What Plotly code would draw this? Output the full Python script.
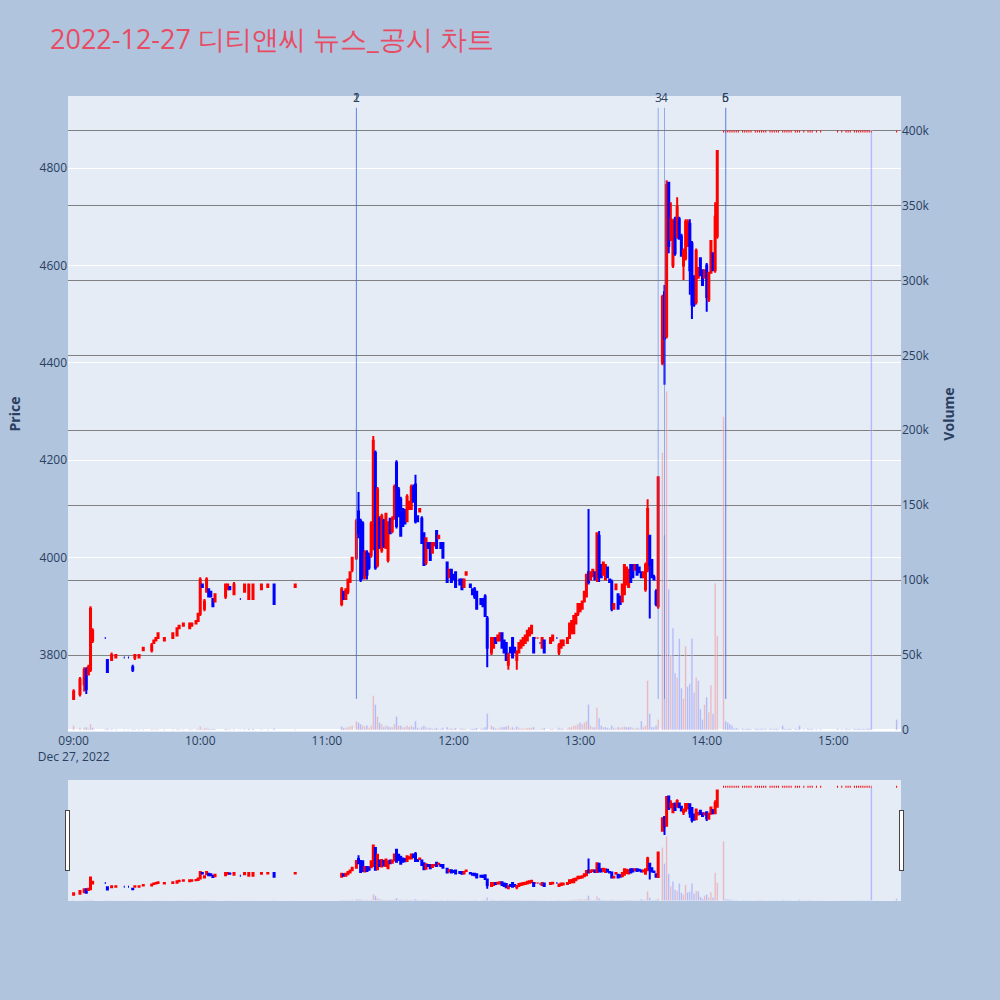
import plotly.graph_objects as go
from plotly.subplots import make_subplots

day = "2022-12-27 "

# 1-minute candles (time, open, high, low, close, volume)
t = ["09:00", "09:03", "09:05", "09:06", "09:07", "09:08", "09:09", "09:15", "09:16", "09:18",
     "09:20", "09:24", "09:26", "09:28", "09:29", "09:31", "09:33", "09:37", "09:38", "09:39",
     "09:40", "09:43", "09:47", "09:49", "09:50", "09:52", "09:55", "09:56", "09:58", "09:59",
     "10:00", "10:01", "10:02", "10:03", "10:04", "10:05", "10:06", "10:07", "10:12", "10:13",
     "10:14", "10:16", "10:19", "10:21", "10:23", "10:25", "10:29", "10:32", "10:35", "10:45",
     "11:07", "11:08", "11:09", "11:10", "11:11", "11:12", "11:14", "11:15", "11:16", "11:17",
     "11:18", "11:19", "11:20", "11:21", "11:22", "11:23", "11:24", "11:25", "11:26", "11:27",
     "11:28", "11:29", "11:30", "11:31", "11:32", "11:33", "11:34", "11:35", "11:36", "11:37",
     "11:38", "11:39", "11:40", "11:41", "11:42", "11:43", "11:44", "11:45", "11:46", "11:47",
     "11:48", "11:49", "11:50", "11:51", "11:52", "11:53", "11:54", "11:55", "11:57", "11:58",
     "11:59", "12:00", "12:01", "12:03", "12:04", "12:05", "12:06", "12:08", "12:09", "12:10",
     "12:11", "12:13", "12:14", "12:15", "12:16", "12:18", "12:19", "12:20", "12:21", "12:22",
     "12:23", "12:24", "12:25", "12:26", "12:27", "12:28", "12:29", "12:30", "12:31", "12:32",
     "12:33", "12:34", "12:35", "12:36", "12:37", "12:38", "12:39", "12:40", "12:41", "12:42",
     "12:43", "12:46", "12:47", "12:49", "12:50", "12:51", "12:52", "12:54", "12:55", "12:56",
     "12:57", "12:58", "12:59", "13:00", "13:01", "13:02", "13:03", "13:04", "13:05", "13:06",
     "13:07", "13:08", "13:09", "13:10", "13:11", "13:12", "13:13", "13:14", "13:15", "13:16",
     "13:17", "13:18", "13:19", "13:20", "13:21", "13:22", "13:23", "13:24", "13:25", "13:26",
     "13:27", "13:28", "13:29", "13:30", "13:31", "13:32", "13:33", "13:34", "13:35", "13:36",
     "13:37", "13:39", "13:40", "13:41", "13:42", "13:43", "13:44", "13:45", "13:46", "13:47",
     "13:48", "13:49", "13:50", "13:51", "13:52", "13:53", "13:54", "13:55", "13:56", "13:57",
     "13:58", "13:59", "14:00", "14:01", "14:02", "14:03", "14:04", "14:05",
     "14:08", "14:09", "14:10", "14:11", "14:12", "14:13", "14:14", "14:15", "14:17", "14:18",
     "14:19", "14:20", "14:21", "14:23", "14:24", "14:25", "14:26", "14:27", "14:28", "14:30",
     "14:31", "14:32", "14:33", "14:34", "14:36", "14:37", "14:38", "14:39", "14:40", "14:42",
     "14:43", "14:44", "14:46", "14:48", "14:49", "14:50", "14:52", "14:54", "15:02", "15:04",
     "15:06", "15:07", "15:08", "15:10", "15:11", "15:12", "15:13", "15:14", "15:15", "15:16",
     "15:17", "15:18", "15:30"]

o = [3710, 3720, 3740, 3770, 3760, 3770, 3830, 3835, 3790, 3790,
     3795, 3795, 3795, 3775, 3795, 3795, 3810, 3810, 3825, 3830,
     3835, 3830, 3835, 3840, 3855, 3860, 3855, 3860, 3865, 3870,
     3885, 3945, 3895, 3930, 3935, 3930, 3915, 3910, 3920, 3935,
     3940, 3925, 3915, 3930, 3915, 3915, 3935, 3940, 3945, 3940,
     3905, 3930, 3915, 3930, 3950, 3975, 4000, 4095, 4075, 4070,
     3960, 4010, 4005, 4005, 4020, 4215, 3985, 4080, 4015, 4075,
     4020, 3995, 4080, 4055, 4080, 4195, 4140, 4120, 4100, 4095,
     4075, 4100, 4100, 4145, 4150, 4085, 4095, 4080, 4050, 3990,
     4030, 4030, 4010, 4025, 4055, 4040, 4030, 4030, 3990, 3960,
     3975, 3965, 3970, 3955, 3955, 3940, 3965, 3945, 3935, 3935,
     3930, 3915, 3915, 3920, 3875, 3805, 3815, 3835, 3830, 3830,
     3845, 3830, 3825, 3780, 3815, 3835, 3815, 3790, 3805, 3815,
     3820, 3825, 3830, 3840, 3845, 3835, 3835, 3835, 3825, 3815,
     3830, 3825, 3830, 3835, 3805, 3815, 3820, 3825, 3835, 3845,
     3845, 3865, 3885, 3890, 3895, 3910, 3920, 3970, 3955, 3965,
     3970, 3955, 4045, 3985, 3965, 3955, 3980, 3955, 3950, 3895,
     3935, 3925, 3920, 3910, 3925, 3945, 3940, 3985, 3985, 3975,
     3985, 3980, 3970, 3960, 3935, 3975, 4045, 3995, 3960, 3930,
     3900, 4400, 4545, 4455, 4770, 4655, 4600, 4695, 4660, 4695,
     4660, 4600, 4615, 4640, 4685, 4645, 4575, 4525, 4575, 4615,
     4590, 4575, 4600, 4530, 4585, 4625, 4590, 4660,
     4875, 4875, 4875, 4875, 4875, 4875, 4875, 4875, 4875, 4875,
     4875, 4875, 4875, 4875, 4875, 4875, 4875, 4875, 4875, 4875,
     4875, 4875, 4875, 4875, 4875, 4875, 4875, 4875, 4875, 4875,
     4875, 4875, 4875, 4875, 4875, 4875, 4875, 4875, 4875, 4875,
     4875, 4875, 4875, 4875, 4875, 4875, 4875, 4875, 4875, 4875,
     4875, 4875, 4875]

h = [3730, 3755, 3775, 3775, 3780, 3900, 3855, 3835, 3790, 3805,
     3800, 3795, 3795, 3780, 3800, 3800, 3815, 3825, 3830, 3835,
     3845, 3835, 3845, 3855, 3860, 3865, 3865, 3865, 3870, 3885,
     3960, 3945, 3915, 3960, 3935, 3930, 3915, 3925, 3945, 3945,
     3940, 3950, 3915, 3945, 3945, 3945, 3945, 3945, 3945, 3945,
     3940, 3930, 3935, 3955, 3970, 4000, 4080, 4135, 4080, 4075,
     4015, 4015, 4010, 4075, 4250, 4220, 4145, 4085, 4090, 4080,
     4090, 4075, 4080, 4085, 4150, 4200, 4145, 4125, 4100, 4100,
     4130, 4115, 4150, 4150, 4170, 4085, 4100, 4085, 4050, 4040,
     4030, 4030, 4030, 4030, 4055, 4045, 4030, 4030, 3990, 3975,
     3975, 3965, 3970, 3955, 3955, 3955, 3970, 3945, 3935, 3940,
     3930, 3915, 3915, 3925, 3880, 3835, 3835, 3835, 3840, 3845,
     3845, 3830, 3825, 3805, 3815, 3835, 3815, 3810, 3825, 3830,
     3835, 3840, 3850, 3855, 3860, 3835, 3835, 3835, 3825, 3835,
     3830, 3835, 3840, 3835, 3825, 3830, 3830, 3835, 3865, 3870,
     3880, 3885, 3905, 3905, 3910, 3930, 3965, 4100, 3970, 3975,
     3970, 4050, 4055, 3985, 3990, 3985, 3980, 3955, 3955, 3905,
     3945, 3925, 3920, 3945, 3985, 3980, 3975, 3985, 3985, 3985,
     3985, 3980, 3970, 3970, 3990, 4120, 4045, 3995, 3965, 3935,
     4165, 4540, 4560, 4775, 4770, 4730, 4695, 4700, 4740, 4700,
     4665, 4635, 4695, 4695, 4695, 4650, 4580, 4635, 4595, 4615,
     4590, 4590, 4605, 4585, 4650, 4625, 4730, 4835,
     4875, 4875, 4875, 4875, 4875, 4875, 4875, 4875, 4875, 4875,
     4875, 4875, 4875, 4875, 4875, 4875, 4875, 4875, 4875, 4875,
     4875, 4875, 4875, 4875, 4875, 4875, 4875, 4875, 4875, 4875,
     4875, 4875, 4875, 4875, 4875, 4875, 4875, 4875, 4875, 4875,
     4875, 4875, 4875, 4875, 4875, 4875, 4875, 4875, 4875, 4875,
     4875, 4875, 4875]

l = [3710, 3715, 3725, 3720, 3760, 3765, 3825, 3835, 3765, 3790,
     3795, 3795, 3795, 3765, 3790, 3795, 3810, 3805, 3825, 3830,
     3835, 3830, 3835, 3840, 3855, 3860, 3855, 3860, 3865, 3870,
     3880, 3940, 3890, 3930, 3920, 3920, 3900, 3910, 3915, 3935,
     3935, 3925, 3915, 3930, 3915, 3915, 3935, 3940, 3905, 3940,
     3900, 3915, 3915, 3925, 3950, 3970, 3995, 4040, 3950, 3955,
     3955, 3955, 3975, 4000, 4015, 3975, 3980, 4020, 4010, 4020,
     4020, 3990, 4050, 4050, 4080, 4060, 4085, 4045, 4065, 4070,
     4075, 4100, 4100, 4115, 4070, 4075, 4095, 4030, 3985, 3985,
     4020, 3995, 4010, 4025, 4020, 4040, 4020, 4000, 3950, 3960,
     3950, 3955, 3940, 3945, 3935, 3940, 3965, 3940, 3925, 3915,
     3895, 3905, 3900, 3880, 3775, 3800, 3815, 3825, 3830, 3830,
     3815, 3805, 3790, 3770, 3805, 3795, 3805, 3770, 3805, 3815,
     3820, 3825, 3830, 3840, 3845, 3805, 3835, 3835, 3825, 3815,
     3805, 3825, 3830, 3835, 3800, 3815, 3820, 3825, 3835, 3845,
     3845, 3865, 3880, 3890, 3895, 3910, 3920, 3945, 3955, 3960,
     3955, 3950, 3950, 3960, 3965, 3955, 3960, 3950, 3890, 3895,
     3935, 3895, 3905, 3910, 3925, 3945, 3940, 3950, 3960, 3975,
     3965, 3970, 3960, 3960, 3930, 3970, 3875, 3960, 3955, 3900,
     3895, 4395, 4355, 4450, 4625, 4650, 4595, 4620, 4655, 4655,
     4620, 4570, 4610, 4640, 4540, 4490, 4515, 4520, 4575, 4580,
     4560, 4575, 4505, 4525, 4585, 4590, 4585, 4655,
     4875, 4875, 4875, 4875, 4875, 4875, 4875, 4875, 4875, 4875,
     4875, 4875, 4875, 4875, 4875, 4875, 4875, 4875, 4875, 4875,
     4875, 4875, 4875, 4875, 4875, 4875, 4875, 4875, 4875, 4875,
     4875, 4875, 4875, 4875, 4875, 4875, 4875, 4875, 4875, 4875,
     4875, 4875, 4875, 4875, 4875, 4875, 4875, 4875, 4875, 4875,
     4875, 4875, 4875]

c = [3725, 3750, 3770, 3730, 3775, 3895, 3850, 3835, 3765, 3800,
     3800, 3795, 3795, 3770, 3800, 3800, 3815, 3820, 3830, 3835,
     3845, 3835, 3845, 3855, 3860, 3865, 3865, 3865, 3870, 3885,
     3955, 3940, 3910, 3955, 3920, 3920, 3900, 3925, 3945, 3945,
     3935, 3945, 3915, 3945, 3945, 3945, 3945, 3945, 3905, 3945,
     3935, 3915, 3935, 3955, 3970, 4000, 4075, 4050, 3955, 3965,
     4010, 3965, 3980, 4070, 4240, 3980, 4140, 4020, 4085, 4025,
     4090, 4070, 4050, 4080, 4145, 4065, 4085, 4045, 4065, 4070,
     4125, 4115, 4145, 4115, 4075, 4075, 4100, 4030, 3985, 4040,
     4020, 3995, 4030, 4030, 4020, 4045, 4020, 4000, 3950, 3975,
     3950, 3955, 3940, 3945, 3935, 3955, 3970, 3940, 3925, 3920,
     3895, 3905, 3900, 3880, 3815, 3835, 3835, 3825, 3840, 3845,
     3815, 3805, 3790, 3800, 3805, 3795, 3805, 3805, 3825, 3830,
     3835, 3840, 3850, 3855, 3860, 3805, 3835, 3835, 3825, 3835,
     3805, 3835, 3840, 3835, 3820, 3830, 3830, 3835, 3865, 3870,
     3880, 3885, 3905, 3905, 3910, 3930, 3965, 3950, 3970, 3975,
     3955, 4050, 3960, 3960, 3990, 3985, 3960, 3950, 3895, 3905,
     3945, 3895, 3905, 3945, 3985, 3980, 3975, 3950, 3960, 3985,
     3965, 3970, 3960, 3970, 3985, 4100, 3985, 3960, 3955, 3905,
     4165, 4535, 4450, 4765, 4640, 4695, 4690, 4625, 4720, 4655,
     4620, 4630, 4690, 4690, 4590, 4520, 4520, 4630, 4595, 4580,
     4560, 4590, 4535, 4585, 4650, 4590, 4700, 4835,
     4875, 4875, 4875, 4875, 4875, 4875, 4875, 4875, 4875, 4875,
     4875, 4875, 4875, 4875, 4875, 4875, 4875, 4875, 4875, 4875,
     4875, 4875, 4875, 4875, 4875, 4875, 4875, 4875, 4875, 4875,
     4875, 4875, 4875, 4875, 4875, 4875, 4875, 4875, 4875, 4875,
     4875, 4875, 4875, 4875, 4875, 4875, 4875, 4875, 4875, 4875,
     4875, 4875, 4875]

v = [3000, 1500, 1500, 2000, 1000, 4000, 1500, 300, 1000, 800,
     300, 200, 200, 600, 500, 300, 300, 600, 300, 300,
     400, 300, 400, 500, 300, 300, 400, 300, 300, 800,
     2500, 500, 1000, 1500, 800, 600, 800, 600, 800, 400,
     300, 600, 200, 500, 800, 800, 400, 300, 1000, 300,
     2500, 1500, 1500, 2000, 2500, 3000, 6000, 5000, 4000, 3000,
     2500, 3000, 1500, 3000, 23000, 17000, 9000, 5000, 4000, 2000,
     3000, 2500, 2000, 2000, 4000, 9000, 3000, 3000, 2000, 2000,
     3000, 2000, 3000, 2000, 6000, 1500, 1000, 2000, 3000, 2000,
     1000, 1500, 1000, 800, 1500, 500, 800, 1500, 2000, 1000,
     1000, 800, 1500, 800, 1000, 800, 300, 500, 800, 1000,
     1500, 800, 1000, 2000, 11000, 3000, 2000, 1000, 1000, 1500,
     2000, 2000, 2500, 3000, 1000, 2000, 1000, 2500, 1500, 1000,
     1000, 1000, 1500, 1500, 1500, 2000, 300, 300, 300, 1000,
     1500, 800, 800, 300, 1500, 1000, 800, 800, 2000, 2000,
     3000, 3000, 4000, 5000, 4000, 5000, 6000, 17000, 3000, 2000,
     2000, 15000, 8000, 3000, 2000, 2000, 1500, 1000, 3000, 1500,
     1000, 2000, 1500, 2000, 2500, 2000, 2000, 2000, 1500, 1000,
     1500, 1000, 6000, 2000, 3000, 33000, 11000, 2000, 2000, 3000,
     7000, 185000, 130000, 226000, 94000, 50000, 68000, 38000, 35000, 61000,
     28000, 21000, 56000, 29000, 31000, 61000, 25000, 35000, 33000, 14000,
     7000, 17000, 22000, 12000, 30000, 11000, 98000, 63000,
     209000, 6000, 5000, 4000, 3000, 1000, 1500, 800, 1000, 500,
     800, 1000, 500, 800, 1000, 500, 1000, 500, 800, 1000,
     500, 800, 1000, 500, 3000, 800, 500, 1000, 500, 800,
     500, 3000, 500, 1000, 500, 800, 500, 500, 800, 500,
     800, 500, 500, 800, 500, 1000, 500, 800, 500, 800,
     1000, 400000, 7000]

# news / disclosure markers
news_t = ["11:14", "11:14", "13:37", "13:40", "14:09", "14:09"]
news_label = ["1", "2", "3", "4", "5", "6"]

x = [day + s for s in t]

vol_colors = []
for i in range(len(c)):
    if i == 0 or c[i] > c[i - 1]:
        vol_colors.append("rgba(255,0,0,0.25)")
    else:
        vol_colors.append("rgba(0,0,255,0.25)")

fig = make_subplots(specs=[[{"secondary_y": True}]])
fig.add_trace(go.Candlestick(x=x, open=o, high=h, low=l, close=c, name="Price",
                             increasing_line_color="red", increasing_fillcolor="red",
                             decreasing_line_color="blue", decreasing_fillcolor="blue"),
              secondary_y=False)
fig.add_trace(go.Bar(x=x, y=v, name="Volume", marker_color=vol_colors), secondary_y=True)

y_top = max(h) * 1.01
for nt, lab in zip(news_t, news_label):
    fig.add_shape(type="line", xref="x", yref="y", x0=day + nt, x1=day + nt,
                  y0=min(l), y1=y_top, line=dict(color="royalblue", width=1), opacity=0.5)
    fig.add_annotation(x=day + nt, y=y_top, xref="x", yref="y", text=lab, showarrow=False,
                       yanchor="bottom", font=dict(size=12, color="#2a3f5f"))

fig.update_layout(
    width=1000, height=1000,
    title=dict(text="2022-12-27 디티앤씨 뉴스_공시 차트", x=0.05, y=0.96, yanchor="middle",
               font=dict(size=27, color="#E84C64")),
    paper_bgcolor="lightsteelblue",
    margin=dict(l=68, r=99, t=96, b=100),
    showlegend=False,
)
fig.update_xaxes(range=[day + "08:57:20", day + "15:32:04"], domain=[0, 1], showgrid=False,
                 rangeslider_visible=True, automargin=False)
fig.update_yaxes(title_text="<b>Price</b>", range=[3642, 4948], automargin=False,
                 secondary_y=False)
fig.update_yaxes(title_text="<b>Volume</b>", range=[-1300, 423000], gridcolor="gray",
                 automargin=False, secondary_y=True)

fig.write_html("out.html", config={"displayModeBar": False},
               post_script="document.body.style.margin='0px';")
